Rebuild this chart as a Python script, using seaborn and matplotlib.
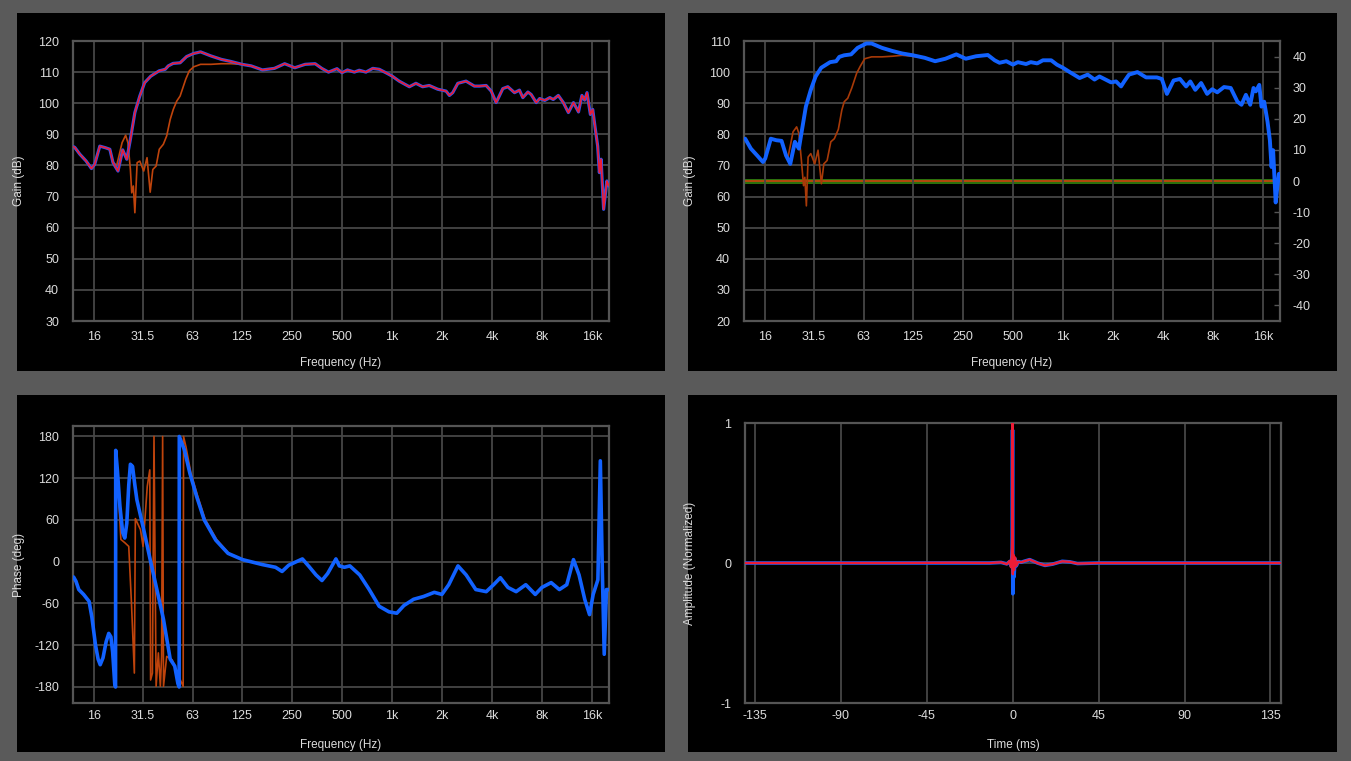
import matplotlib
matplotlib.use("Agg")
import matplotlib.pyplot as plt
from matplotlib.patches import Rectangle
import seaborn as sns

# ---------------------------------------------------------------------------
# Values
# ---------------------------------------------------------------------------

# Top-left: measured gain (blue + red overlay) and raw capture (orange)
p1_freq = [12.1, 12.3, 13.2, 14.4, 15.5, 16.2, 17.4, 18.8, 20.0, 20.9, 22.4, 23.9,
           25.3, 26.6, 28.3, 30.3, 32.4, 35.3, 39.6, 43.1, 45.0, 48.1, 53.0, 58.0,
           64.0, 70.4, 81.3, 93.8, 107.6, 125, 142, 166, 196, 226, 260, 300, 345,
           378, 415, 467, 500, 540, 594, 636, 697, 767, 839, 920, 1004, 1106, 1274,
           1395, 1530, 1678, 1888, 2120, 2220, 2325, 2494, 2794, 3139, 3367, 3694,
           3963, 4244, 4656, 4990, 5474, 5863, 6143, 6590, 6900, 7400, 7760, 8330,
           8940, 9370, 10050, 10780, 11560, 12400, 13300, 13940, 14480, 14960,
           15680, 16200, 16800, 17350, 17760, 18190, 18840, 19710, 20260]
p1_gain = [86.0, 85.8, 83.6, 81.4, 79.0, 80.3, 86.2, 85.7, 85.2, 80.9, 78.2, 85.0,
           82.0, 88.4, 97.0, 102.3, 106.6, 108.7, 110.4, 110.9, 112.0, 112.8, 113.0,
           115.0, 116.0, 116.5, 115.2, 114.1, 113.4, 112.5, 112.0, 110.7, 111.2,
           112.7, 111.4, 112.5, 112.7, 111.2, 110.0, 111.1, 109.8, 110.7, 110.0,
           110.6, 110.0, 111.2, 110.9, 109.8, 108.7, 107.1, 105.3, 106.4, 105.3,
           105.7, 104.5, 103.9, 102.5, 103.4, 106.4, 107.1, 105.5, 105.5, 105.7,
           103.9, 100.2, 104.7, 105.3, 103.4, 104.2, 101.8, 103.6, 102.8, 100.2,
           101.5, 100.9, 101.8, 101.2, 102.5, 100.2, 97.0, 100.2, 97.2, 102.5,
           101.0, 103.4, 96.4, 98.0, 91.6, 86.2, 77.7, 82.0, 65.9, 75.0, 73.4]
p1_raw_freq = [12.1, 13.2, 14.4, 15.5, 16.2, 17.4, 18.8, 20.0, 20.9, 22.0, 23.7,
               24.9, 25.7, 26.6, 27.1, 27.7, 28.3, 29.2, 30.3, 32.0, 33.5, 35.0,
               36.3, 38.0, 39.7, 42.0, 44.0, 46.2, 48.2, 50.6, 53.0, 57.3, 60.2,
               64.0, 70.4, 81.3, 93.8, 107.6, 123, 142, 166]
p1_raw_gain = [86.0, 83.6, 81.4, 79.0, 80.3, 86.2, 85.7, 85.2, 81.0, 80.0, 87.3,
               89.7, 87.3, 78.7, 71.2, 73.4, 64.8, 80.9, 81.4, 78.2, 82.5, 71.4,
               78.7, 79.8, 85.2, 86.8, 89.5, 94.8, 98.0, 100.7, 102.3, 107.7, 110.4,
               111.7, 112.5, 112.5, 112.7, 112.7, 112.5, 112.0, 110.7]

# Top-right: corrected gain (blue), raw capture (brown), flat target (right axis)
p2_freq = [12.2, 13.2, 14.4, 15.6, 16.1, 17.4, 18.8, 20.2, 21.5, 22.8, 24.3, 25.7,
           26.6, 28.3, 30.3, 32.4, 35.0, 39.6, 43.1, 45.0, 48.1, 53.0, 58.0, 65.5,
           70.4, 81.3, 93.8, 107.6, 125, 147, 170, 196, 228, 260, 300, 353, 388,
           415, 456, 500, 535, 600, 640, 700, 758, 850, 920, 1000, 1100, 1260, 1410,
           1550, 1660, 1950, 2090, 2240, 2340, 2500, 2810, 3170, 3680, 3940, 4230,
           4640, 5070, 5520, 5850, 6270, 6800, 7390, 7930, 8500, 9340, 10250, 11250,
           11900, 12650, 13430, 14060, 14520, 15230, 15700, 16300, 17080, 17640,
           18050, 18450, 19120, 19560, 20000, 20300]
p2_gain = [78.6, 75.4, 73.2, 71.1, 72.2, 78.6, 78.1, 77.9, 73.2, 70.5, 77.6, 75.4,
           80.3, 88.9, 94.3, 98.6, 101.4, 103.2, 103.5, 104.9, 105.4, 105.7, 107.8,
           109.2, 109.2, 107.8, 106.8, 106.0, 105.4, 104.6, 103.5, 104.3, 105.7,
           104.3, 105.1, 105.5, 103.8, 103.0, 103.5, 102.4, 103.2, 102.6, 103.2,
           102.8, 103.8, 103.8, 102.4, 101.4, 100.0, 98.1, 99.2, 97.6, 98.6, 96.7,
           97.0, 95.4, 97.0, 99.2, 100.0, 98.3, 98.3, 97.8, 93.0, 97.3, 97.8, 95.4,
           97.0, 94.3, 96.5, 93.0, 94.5, 93.5, 95.2, 94.9, 90.5, 89.5, 92.7, 89.5,
           94.9, 93.8, 95.9, 88.9, 90.5, 84.0, 78.1, 69.5, 74.9, 58.1, 63.0, 67.3,
           65.4]
p2_raw_freq = [12.2, 13.2, 14.4, 15.6, 16.1, 17.4, 18.8, 20.2, 21.0, 22.0, 23.7,
               24.9, 25.7, 26.6, 27.4, 27.9, 28.5, 29.2, 30.3, 32.0, 33.5, 35.1,
               36.3, 38.0, 40.0, 42.0, 44.4, 46.6, 48.2, 50.6, 53.5, 57.3, 60.2,
               64.0, 70.4, 81.3, 93.8, 107.6, 123, 147, 170]
p2_raw_gain = [78.6, 75.4, 73.2, 71.1, 72.2, 78.6, 78.1, 77.9, 75.0, 72.2, 80.8,
               82.4, 80.3, 71.6, 63.5, 66.2, 57.0, 72.7, 73.8, 70.5, 74.9, 64.1,
               70.5, 71.6, 77.6, 78.6, 81.6, 87.8, 90.5, 91.6, 94.9, 99.7, 101.9,
               104.3, 104.9, 104.9, 105.1, 105.4, 105.1, 104.6, 103.5]
target_freq = [12, 20300]
target_level = [0, 0]

# Bottom-left: phase (blue) and raw phase (orange)
p3_freq = [12.1, 12.5, 13.0, 13.9, 15.0, 15.6, 16.4, 17.0, 17.5, 18.2, 19.0, 19.7,
           20.3, 20.8, 21.4, 21.65, 21.7, 22.2, 23.0, 23.9, 24.6, 25.3, 26.0, 26.6,
           27.4, 28.3, 29.1, 32.0, 35.0, 38.4, 42.1, 46.2, 49.2, 51.4, 52.3, 52.4,
           56.2, 60.7, 66.6, 74.1, 86.9, 103, 126, 165, 199, 218, 239, 289, 317,
           349, 379, 410, 460, 482, 517, 558, 640, 730, 838, 960, 1070, 1180, 1350,
           1550, 1800, 2000, 2200, 2500, 2800, 3200, 3700, 4100, 4500, 5000, 5600,
           6400, 7300, 8000, 9100, 10200, 11300, 12400, 13400, 14500, 15500, 16300,
           17400, 18000, 18500, 19000, 19600, 20200]
p3_phase = [-22, -28, -40, -47, -57, -80, -120, -140, -148, -138, -115, -103, -108,
            -130, -175, -180, 160, 132, 80, 42, 34, 55, 110, 140, 137, 110, 89, 46,
            3, -40, -83, -140, -150, -175, -180, 180, 161, 127, 94, 60, 31, 12, 3,
            -4, -8, -14, -5, 4, -7, -19, -27, -17, 4, -6, -8, -6, -19, -40, -64,
            -72, -74, -63, -54, -50, -44, -47, -33, -6, -19, -40, -43, -33, -23,
            -37, -43, -33, -47, -37, -30, -40, -33, 3, -19, -54, -76, -47, -26, 145,
            -12, -133, -40, -40]
p3_raw_freq = [12.1, 13.0, 13.9, 15.0, 15.6, 16.4, 17.0, 17.5, 18.2, 19.0, 19.7,
               20.3, 20.8, 21.3, 21.55, 21.6, 22.3, 23.3, 24.7, 26.0, 27.0, 28.1,
               28.5, 30.6, 31.7, 33.6, 34.8, 35.2, 36.1, 36.9, 38.0, 39.2, 40.3,
               41.0, 41.6, 42.1, 44.0, 47.5, 51.0, 55.3, 55.6, 57.5, 61.5, 67.5,
               75.0, 88.0, 104, 127, 150]
p3_raw_phase = [-22, -40, -47, -57, -80, -120, -140, -148, -138, -115, -103, -108,
                -135, -170, -180, 160, 120, 32, 27, 22, -60, -160, 62, 46, 22, 108,
                132, -170, -160, 180, -179, -131, -179, -136, 180, -179, -136, -141,
                -160, -179, 180, 165, 128, 95, 61, 32, 12, 3, -2]

# Bottom-right: normalized impulse response
imp_time = [-140, -60, -30, -12, -6, -3, -1.5, -0.8, -0.4, -0.15, 0, 0.15, 0.4,
            0.8, 1.3, 2, 3, 4.5, 6, 9, 13, 17, 21, 26, 30, 34, 45, 140]
imp_red = [0, 0, 0.002, 0, 0.005, -0.008, 0.015, -0.03, 0.05, 0.2, 1.0, -0.08,
           0.06, -0.05, 0.04, -0.02, 0.01, 0.005, 0.012, 0.024, 0.0, -0.017,
           -0.008, 0.012, 0.008, -0.004, 0, 0]
imp_blue = [0, 0, 0, 0, 0.004, -0.006, 0.01, -0.02, 0.03, 0.1, 0.95, -0.22, 0.04,
            -0.1, 0.03, -0.02, 0.01, 0.005, 0.012, 0.024, 0.0, -0.017, -0.008,
            0.012, 0.008, -0.004, 0, 0]

freq_ticks = [16, 31.5, 63, 125, 250, 500, 1000, 2000, 4000, 8000, 16000]
freq_labels = ["16", "31.5", "63", "125", "250", "500", "1k", "2k", "4k", "8k", "16k"]
time_ticks = [-135, -90, -45, 0, 45, 90, 135]

# ---------------------------------------------------------------------------
# Style
# ---------------------------------------------------------------------------
sns.set_theme(style="dark")
plt.rcParams["font.family"] = ["Liberation Sans", "DejaVu Sans"]
plt.rcParams["axes.unicode_minus"] = False

FIG_BG = "#5a5a5a"
GRID = "#464646"
SPINE = "#555555"
TEXT = "#dcdcdc"
BLUE = "#1262ff"
RED = "#ec1c36"
ORANGE = "#bf440c"
GREEN = "#2c700c"

W, H = 1351, 761
fig = plt.figure(figsize=(W / 100, H / 100), dpi=100, facecolor=FIG_BG)

# black panel cards (left, top, right, bottom in pixels)
for left, top, right, bottom in [(17, 13, 665, 371), (688, 13, 1337, 371),
                                 (17, 395, 665, 752), (688, 395, 1337, 752)]:
    fig.add_artist(Rectangle((left / W, 1 - bottom / H), (right - left) / W,
                             (bottom - top) / H, transform=fig.transFigure,
                             facecolor="black", edgecolor="none", zorder=-1))


def px_axes(left, top, right, bottom):
    return fig.add_axes([left / W, 1 - bottom / H, (right - left) / W, (bottom - top) / H])


def style(ax, xpad=6, ygrid=True):
    ax.set_facecolor("black")
    ax.grid(True, axis="x", color=GRID, linewidth=1.3)
    ax.grid(ygrid, axis="y", color=GRID, linewidth=1.3)
    ax.set_axisbelow(True)
    for s in ax.spines.values():
        s.set_color(SPINE)
        s.set_linewidth(1.6)
        s.set_visible(True)
    ax.tick_params(axis="both", length=0, labelsize=9, colors=TEXT)
    ax.tick_params(axis="y", pad=10)
    ax.tick_params(axis="x", pad=xpad)


def freq_axis(ax, xlim=(12, 20300)):
    ax.set_xscale("log")
    ax.set_xlim(*xlim)
    ax.set_xticks(freq_ticks)
    ax.set_xticklabels(freq_labels)
    ax.minorticks_off()
    ax.set_xlabel("Frequency (Hz)", color=TEXT, fontsize=8.5)
    ax.xaxis.set_label_coords(0.5, -0.128)


def line(ax, x, y, color, lw, z):
    sns.lineplot(x=x, y=y, ax=ax, color=color, linewidth=lw, estimator=None,
                 sort=False, legend=False, zorder=z)


# --- top-left -------------------------------------------------------------
ax1 = px_axes(73, 41, 609, 321)
line(ax1, p1_raw_freq, p1_raw_gain, ORANGE, 1.2, 3)
line(ax1, p1_freq, p1_gain, "#2a55f0", 2.3, 4)
line(ax1, p1_freq, p1_gain, RED, 1.2, 5)
style(ax1, xpad=7)
freq_axis(ax1)
ax1.set_ylim(30, 120)
ax1.set_yticks(range(30, 121, 10))
ax1.set_ylabel("Gain (dB)", color=TEXT, fontsize=8.5)
ax1.yaxis.set_label_coords(-0.09, 0.5)

# --- top-right ------------------------------------------------------------
ax2 = px_axes(744, 41, 1280, 321)
style(ax2, xpad=7)
freq_axis(ax2)
ax2.set_ylim(20, 110)
ax2.set_yticks(range(20, 111, 10))
ax2.set_ylabel("Gain (dB)", color=TEXT, fontsize=8.5)
ax2.yaxis.set_label_coords(-0.09, 0.5)

# flat target on the secondary (right) axis, drawn beneath the gain curves
ax2r = ax2.twinx()
line(ax2r, target_freq, target_level, GREEN, 3.6, 2)
line(ax2r, target_freq, target_level, ORANGE, 1.3, 3)
ax2r.set_xlim(ax2.get_xlim())
ax2r.set_ylim(-45, 45)
ax2r.set_yticks(range(-40, 41, 10))
ax2r.set_ylabel("")
ax2r.tick_params(axis="y", direction="in", length=4, width=1, color=SPINE,
                 labelsize=9, labelcolor=TEXT, pad=9)
for s in ax2r.spines.values():
    s.set_visible(False)
ax2r.patch.set_visible(False)

ax2.set_zorder(ax2r.get_zorder() + 1)
ax2.patch.set_visible(False)
line(ax2, p2_raw_freq, p2_raw_gain, "#a83a08", 1.2, 3)
line(ax2, p2_freq, p2_gain, BLUE, 2.8, 4)
ax2.set_xlim(12, 20300)

# --- bottom-left ----------------------------------------------------------
ax3 = px_axes(73, 426, 609, 703)
line(ax3, p3_raw_freq + p3_freq[44:], p3_raw_phase + p3_phase[44:], ORANGE, 1.2, 3)
line(ax3, p3_freq, p3_phase, BLUE, 2.6, 4)
style(ax3, xpad=5)
freq_axis(ax3)
ax3.xaxis.set_label_coords(0.5, -0.13)
ax3.set_ylim(-203, 195)
ax3.set_yticks(range(-180, 181, 60))
ax3.set_ylabel("Phase (deg)", color=TEXT, fontsize=8.5)
ax3.yaxis.set_label_coords(-0.09, 0.5)

# --- bottom-right ---------------------------------------------------------
ax4 = px_axes(745, 423, 1281, 703)
line(ax4, imp_time, imp_blue, BLUE, 2.6, 3)
line(ax4, imp_time, imp_red, RED, 1.7, 4)
style(ax4, xpad=5, ygrid=False)
ax4.set_xlim(-140, 140.5)
ax4.set_xticks(time_ticks)
ax4.set_ylim(-1, 1)
ax4.set_yticks([-1, 0, 1])
ax4.set_xlabel("Time (ms)", color=TEXT, fontsize=8.5)
ax4.xaxis.set_label_coords(0.5, -0.128)
ax4.set_ylabel("Amplitude (Normalized)", color=TEXT, fontsize=8.5)
ax4.yaxis.set_label_coords(-0.091, 0.5)

fig.savefig("out.png", dpi=100, facecolor=FIG_BG)
